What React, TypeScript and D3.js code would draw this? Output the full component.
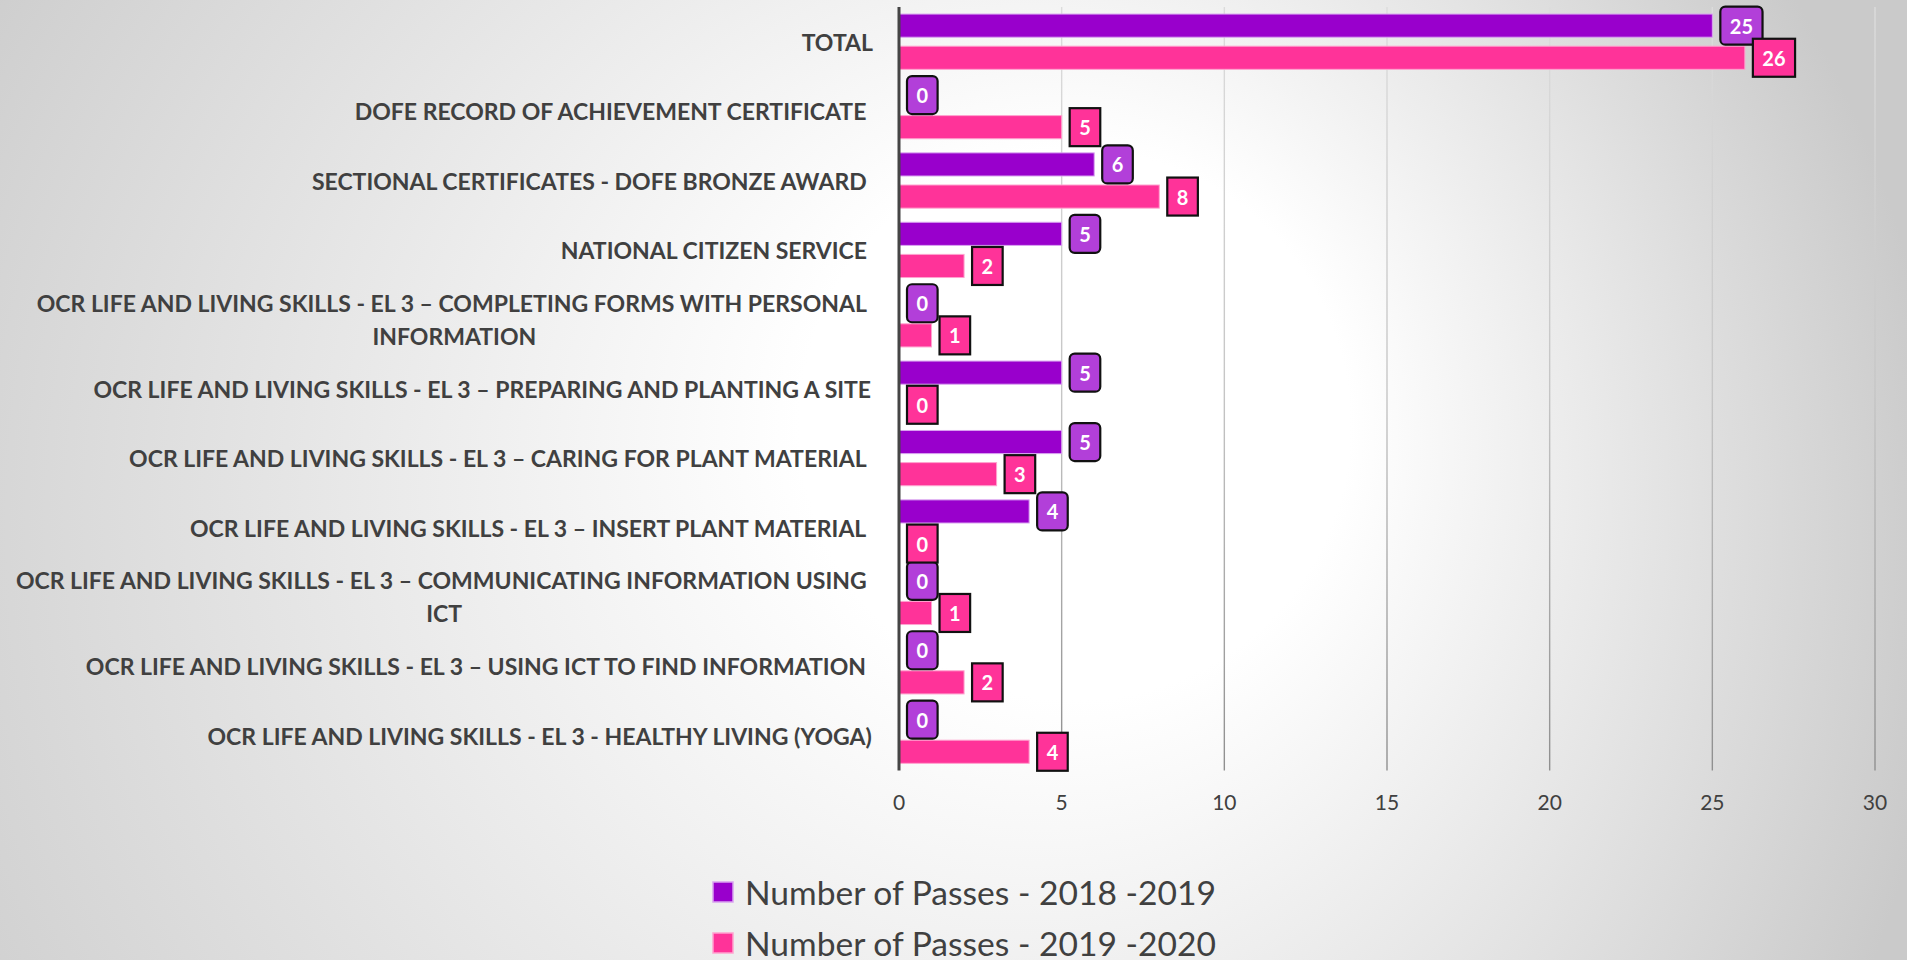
import React from "react";
import * as d3 from "d3";

const categories: string[][] = [
  ["TOTAL"],
  ["DOFE RECORD OF ACHIEVEMENT CERTIFICATE "],
  ["SECTIONAL CERTIFICATES - DOFE BRONZE AWARD "],
  ["NATIONAL CITIZEN SERVICE "],
  ["OCR LIFE AND LIVING SKILLS - EL 3 – COMPLETING FORMS WITH PERSONAL ", "INFORMATION"],
  ["OCR LIFE AND LIVING SKILLS - EL 3 – PREPARING AND PLANTING A SITE"],
  ["OCR LIFE AND LIVING SKILLS - EL 3 – CARING FOR PLANT MATERIAL "],
  ["OCR LIFE AND LIVING SKILLS - EL 3 – INSERT PLANT MATERIAL "],
  ["OCR LIFE AND LIVING SKILLS - EL 3 – COMMUNICATING INFORMATION USING ", "ICT"],
  ["OCR LIFE AND LIVING SKILLS - EL 3 – USING ICT TO FIND INFORMATION "],
  ["OCR LIFE AND LIVING SKILLS - EL 3 - HEALTHY LIVING (YOGA)"],
];

const seriesNames = ["Number of Passes - 2018 -2019", "Number of Passes - 2019 -2020"];
const passes2018 = [25, 0, 6, 5, 0, 5, 5, 4, 0, 0, 0];
const passes2019 = [26, 5, 8, 2, 1, 0, 3, 0, 1, 2, 4];
const xTicks = [0, 5, 10, 15, 20, 25, 30];

const W = 1907;
const H = 960;
const FONT = "Lato, 'Open Sans', sans-serif";
const LABEL_SIZE = 23;
const DATA_SIZE = 20;
const LEGEND_SIZE = 33.6;

const barFill = ["#9900CC", "#FF3399"];
const barStroke = ["#D9A3F0", "#FFA3CF"];
const boxFill = ["#B23FD9", "#FF3399"];

let ctx: CanvasRenderingContext2D | null = null;
function measure(text: string, font: string): number {
  if (!ctx) ctx = document.createElement("canvas").getContext("2d");
  if (!ctx) return text.length * 10;
  ctx.font = font;
  return ctx.measureText(text).width;
}

export default function App() {
  const x = d3.scaleLinear().domain([0, 30]).range([899, 1875]);
  const ids = categories.map((_, i) => String(i));
  const y = d3.scaleBand().domain(ids).range([7, 770.4]);
  const sub = d3
    .scaleBand()
    .domain(["a", "b"])
    .range([0, y.bandwidth()])
    .paddingInner(0.28)
    .paddingOuter(0.22);
  const bh = sub.bandwidth();
  const series = [passes2018, passes2019];
  const keys = ["a", "b"];
  const labelRight = 873;
  const labelFont = `bold ${LABEL_SIZE}px Lato`;
  const dataFont = `bold ${DATA_SIZE}px Lato`;
  const [y0, y1] = y.range();

  return (
    <svg
      width={W}
      height={H}
      style={{ position: "absolute", left: 0, top: 0, display: "block" }}
      fontFamily={FONT}
    >
      <defs>
        <radialGradient
          id="bg"
          gradientUnits="userSpaceOnUse"
          cx={850}
          cy={560}
          r={1100}
          fx={1150}
          fy={380}
        >
          <stop offset="0" stopColor="#ffffff" />
          <stop offset="0.25" stopColor="#ffffff" />
          <stop offset="1" stopColor="#cacaca" />
        </radialGradient>
        <linearGradient id="grid" gradientUnits="userSpaceOnUse" x1={0} y1={y0} x2={0} y2={y1}>
          <stop offset="0" stopColor="#dcdcdc" />
          <stop offset="0.5" stopColor="#c6c6c6" />
          <stop offset="1" stopColor="#8f8f8f" />
        </linearGradient>
      </defs>
      <rect x={0} y={0} width={W} height={H} fill="url(#bg)" />

      {/* gridlines */}
      {xTicks.filter((t) => t > 0).map((t) => (
        <line
          key={"g" + t}
          x1={x(t)}
          x2={x(t)}
          y1={y0}
          y2={y1}
          stroke="url(#grid)"
          strokeWidth={1.4}
        />
      ))}

      {/* tick labels */}
      {xTicks.map((t) => (
        <text
          key={"t" + t}
          x={x(t)}
          y={801}
          textAnchor="middle"
          dominantBaseline="central"
          fontSize={21}
          fill="#404040"
        >
          {t}
        </text>
      ))}

      {/* bars */}
      {series.map((vals, s) =>
        vals.map((v, i) => (
          <rect
            key={`b${s}-${i}`}
            x={x(0)}
            y={(y(ids[i]) as number) + (sub(keys[s]) as number)}
            width={x(v) - x(0)}
            height={bh}
            fill={barFill[s]}
            stroke={v > 0 ? barStroke[s] : "none"}
            strokeWidth={1}
          />
        ))
      )}

      {/* axis line */}
      <line x1={x(0)} x2={x(0)} y1={y0} y2={y1} stroke="#454545" strokeWidth={3} />

      {/* data labels */}
      {series.map((vals, s) =>
        vals.map((v, i) => {
          const txt = String(v);
          const tw = measure(txt, dataFont);
          const bw = tw + 19;
          const bx = x(v) + 8;
          const cy = (y(ids[i]) as number) + (sub(keys[s]) as number) + bh / 2;
          return (
            <g key={`l${s}-${i}`}>
              <rect
                x={bx}
                y={cy - 19}
                width={bw}
                height={38}
                rx={s === 0 ? 5 : 0}
                fill={boxFill[s]}
                stroke="#111"
                strokeWidth={2.2}
              />
              <text
                x={bx + bw / 2}
                y={cy}
                textAnchor="middle"
                dominantBaseline="central"
                fontSize={DATA_SIZE}
                fontWeight="bold"
                fill="#ffffff"
              >
                {txt}
              </text>
            </g>
          );
        })
      )}

      {/* category labels */}
      {categories.map((lines, i) => {
        const cy = (y(ids[i]) as number) + y.bandwidth() / 2;
        const lh = 33;
        const w0 = measure(lines[0], labelFont);
        const center = labelRight - w0 / 2;
        return (
          <text
            key={"c" + i}
            fontSize={LABEL_SIZE}
            fontWeight="bold"
            fill="#404040"
            style={{ whiteSpace: "pre" }}
          >
            {lines.map((ln, j) => (
              <tspan
                key={j}
                x={center}
                y={cy + (j - (lines.length - 1) / 2) * lh}
                textAnchor="middle"
                dominantBaseline="central"
              >
                {ln}
              </tspan>
            ))}
          </text>
        );
      })}

      {/* legend */}
      {seriesNames.map((name, s) => (
        <g key={"lg" + s}>
          <rect
            x={713}
            y={882 + s * 51}
            width={20}
            height={20}
            fill={barFill[s]}
            stroke={barStroke[s]}
            strokeWidth={1.5}
          />
          <text
            x={745}
            y={892 + s * 51}
            dominantBaseline="central"
            fontSize={LEGEND_SIZE}
            fill="#404040"
          >
            {name}
          </text>
        </g>
      ))}
    </svg>
  );
}
